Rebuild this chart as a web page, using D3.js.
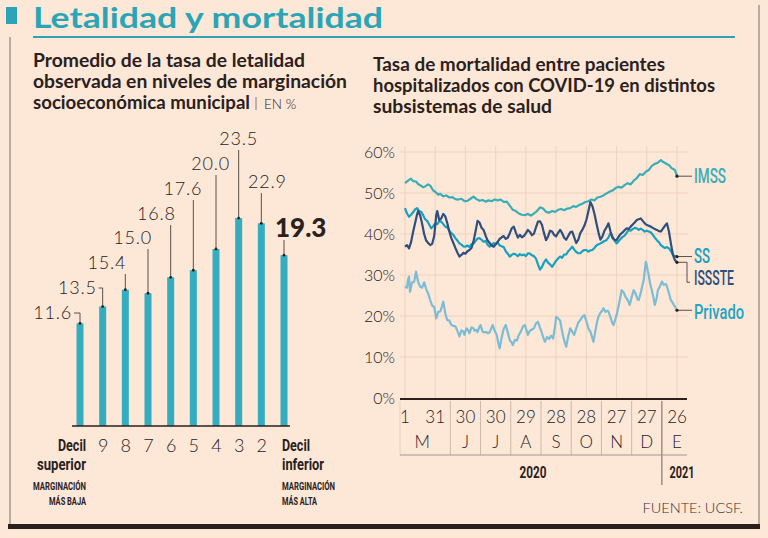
<!DOCTYPE html>
<html>
<head>
<meta charset="utf-8">
<script src="https://cdn.jsdelivr.net/npm/d3@7"></script>
<style>
  body { margin: 0; background: #fde7d7; }
  svg { display: block; }
</style>
</head>
<body>
<div id="chart"></div>
<script>
// Datos: letalidad por decil de marginación
const deciles = ["Decil superior", "9", "8", "7", "6", "5", "4", "3", "2", "Decil inferior"];
const letalidad = [11.6, 13.5, 15.4, 15.0, 16.8, 17.6, 20.0, 23.5, 22.9, 19.3];

// Datos: mortalidad por subsistema, [días desde el 1 de mayo de 2020, %]
const fechaInicio = "2020-05-01";
const imss = [[0,52.4],[3,53.0],[6,53.5],[8,52.9],[11,52.8],[13,52.2],[15,51.9],[18,51.4],[20,51.6],[23,52.1],[25,51.8],[28,50.6],[30,50.3],[33,49.6],[35,49.8],[38,49.2],[41,49.4],[44,48.9],[47,49.0],[50,48.5],[53,48.4],[56,48.6],[59,48.0],[62,48.1],[65,48.6],[68,49.1],[71,48.5],[74,48.1],[77,48.3],[80,47.9],[83,48.2],[86,48.0],[89,48.4],[92,48.2],[95,48.4],[98,47.8],[101,47.9],[104,46.9],[107,45.9],[110,45.6],[113,45.0],[116,44.7],[119,44.6],[122,44.9],[125,44.5],[128,45.0],[131,45.6],[134,46.5],[137,46.2],[140,45.4],[143,45.2],[146,45.6],[149,45.4],[152,45.9],[155,46.1],[158,45.8],[161,46.2],[164,46.3],[167,46.8],[170,46.6],[173,47.1],[176,47.4],[179,47.8],[182,48.0],[185,48.4],[188,48.2],[191,48.9],[194,49.1],[197,49.4],[200,49.9],[203,50.3],[206,50.6],[209,51.2],[212,51.5],[215,51.3],[218,51.9],[221,52.4],[224,52.1],[227,53.0],[230,53.6],[233,54.6],[236,54.4],[239,55.2],[242,55.6],[245,56.6],[248,57.1],[251,57.4],[254,58.0],[256,57.6],[259,57.2],[262,56.8],[265,56.0],[268,55.6],[270,54.1]];
const ss = [[0,46.3],[2,45.0],[4,44.2],[6,44.7],[8,45.3],[10,46.0],[12,46.3],[14,45.6],[16,45.4],[18,44.6],[20,43.6],[22,43.2],[24,42.3],[26,41.4],[28,41.9],[30,42.6],[32,42.4],[34,43.1],[36,43.0],[38,42.4],[40,41.8],[42,41.6],[44,40.8],[46,40.2],[48,39.8],[50,39.0],[52,38.4],[54,37.7],[56,37.4],[58,37.0],[60,36.9],[62,37.2],[64,36.8],[66,37.5],[68,37.7],[70,38.3],[72,38.9],[74,39.0],[76,38.6],[78,38.1],[80,38.3],[82,37.4],[84,36.9],[86,37.3],[88,37.8],[90,37.5],[92,37.9],[94,37.2],[96,37.0],[98,36.8],[100,35.8],[102,35.2],[104,34.5],[106,34.9],[108,35.2],[110,35.0],[112,34.6],[114,35.1],[116,34.8],[118,35.0],[120,34.6],[122,35.3],[124,35.2],[126,34.8],[128,34.6],[130,34.0],[132,32.6],[134,31.3],[136,32.0],[138,33.1],[140,33.8],[142,33.0],[144,32.6],[146,32.0],[148,32.7],[150,33.5],[152,34.0],[154,34.5],[156,34.2],[158,35.0],[160,35.0],[162,35.8],[164,36.3],[166,36.9],[168,36.2],[170,35.6],[172,35.3],[174,35.3],[176,35.8],[178,36.1],[180,36.1],[182,35.7],[184,36.0],[186,36.1],[188,36.6],[190,37.2],[192,37.5],[194,37.7],[196,38.0],[198,38.3],[200,38.5],[202,39.2],[204,40.2],[206,39.4],[208,38.4],[210,37.7],[212,38.2],[214,38.8],[216,39.3],[218,39.6],[220,40.3],[222,41.0],[224,40.8],[226,41.2],[228,41.5],[230,41.4],[232,41.0],[234,41.3],[236,41.0],[238,40.6],[240,40.8],[242,40.6],[244,40.4],[246,39.8],[248,39.1],[250,38.5],[252,38.0],[254,37.3],[256,36.9],[258,36.6],[260,36.8],[262,36.5],[264,35.8],[266,34.9],[268,34.6],[270,34.5]];
const issste = [[0,36.9],[2,37.3],[4,36.5],[6,38.0],[8,40.5],[10,42.6],[12,44.8],[13,45.6],[15,44.6],[17,42.5],[19,40.0],[21,38.4],[23,37.8],[25,37.3],[27,37.6],[29,39.5],[31,44.6],[32,45.6],[34,43.4],[36,43.8],[38,44.9],[40,44.3],[42,42.6],[44,40.6],[46,39.0],[48,37.8],[50,36.6],[52,35.5],[54,34.5],[56,34.9],[58,35.4],[60,35.2],[62,35.8],[64,36.1],[66,36.6],[68,38.2],[70,40.6],[72,43.2],[74,42.8],[76,41.5],[78,41.0],[80,39.6],[82,38.4],[84,37.8],[86,37.2],[88,36.9],[90,37.5],[92,38.1],[94,38.8],[96,39.2],[98,39.5],[100,38.8],[102,39.1],[104,40.2],[106,41.4],[108,41.8],[110,40.4],[112,39.1],[114,39.8],[116,39.2],[118,39.5],[120,40.2],[122,41.0],[124,40.5],[126,39.7],[128,40.1],[130,41.6],[132,43.0],[134,43.1],[136,42.2],[138,40.2],[140,38.5],[142,39.4],[144,40.8],[146,40.6],[148,39.8],[150,39.4],[152,40.3],[154,41.0],[156,40.2],[158,39.1],[160,38.6],[162,39.5],[164,40.4],[166,40.6],[168,39.2],[170,37.8],[172,38.6],[174,40.2],[176,41.0],[178,42.0],[180,43.4],[182,45.5],[184,47.8],[186,46.8],[188,45.0],[190,42.6],[192,40.4],[194,38.6],[196,39.4],[198,40.8],[200,41.6],[202,42.6],[204,40.6],[206,39.0],[208,38.6],[210,38.5],[212,39.3],[214,40.0],[216,40.4],[218,40.9],[220,41.4],[222,41.2],[224,41.8],[226,42.3],[228,42.8],[230,43.4],[232,43.6],[234,43.8],[236,43.2],[238,42.6],[240,42.2],[242,42.0],[244,41.8],[246,41.5],[248,41.2],[250,41.0],[252,40.7],[254,40.6],[256,41.3],[258,42.0],[260,42.6],[262,40.6],[264,37.6],[266,34.9],[268,33.6],[270,33.1]];
const privado = [[0,27.2],[2,26.9],[3,28.8],[4,29.6],[5,25.9],[7,28.2],[9,28.3],[11,30.8],[13,28.4],[15,27.2],[17,26.9],[19,28.2],[21,26.6],[23,25.5],[25,23.9],[27,22.5],[29,22.2],[31,19.4],[33,21.0],[35,21.1],[37,22.6],[38,23.5],[40,20.6],[42,19.0],[44,18.9],[46,17.8],[48,17.6],[50,17.5],[52,16.4],[54,15.0],[56,16.5],[58,16.2],[59,15.4],[61,17.0],[63,16.4],[64,15.8],[66,17.2],[68,17.0],[69,16.4],[71,16.6],[72,16.1],[74,17.4],[75,17.8],[77,16.2],[79,16.0],[81,16.1],[82,15.8],[84,16.0],[86,17.2],[87,17.8],[89,16.4],[91,15.4],[93,13.0],[94,12.1],[96,14.8],[98,16.9],[100,17.8],[102,16.0],[104,14.1],[106,13.5],[107,12.9],[109,14.2],[111,14.0],[113,15.4],[115,16.2],[117,17.4],[119,17.8],[121,16.2],[122,15.4],[124,16.4],[126,16.7],[128,17.0],[130,18.2],[132,18.6],[134,17.1],[136,15.8],[138,14.2],[139,13.7],[141,14.9],[143,14.4],[145,15.2],[147,14.5],[149,17.6],[150,19.8],[152,19.4],[154,18.9],[156,16.2],[158,14.0],[160,12.5],[162,15.0],[164,17.0],[166,16.2],[168,15.4],[170,17.0],[172,18.4],[174,19.0],[176,19.8],[178,20.2],[180,18.8],[182,17.0],[184,16.2],[186,14.6],[187,13.7],[189,16.4],[191,19.0],[192,19.8],[194,20.8],[196,21.4],[197,21.9],[199,21.0],[201,21.3],[202,21.1],[204,19.6],[206,18.2],[207,17.8],[209,19.4],[210,20.2],[212,22.4],[214,24.8],[215,26.3],[217,25.8],[219,24.6],[220,24.3],[222,23.4],[223,22.7],[225,24.6],[227,26.3],[229,25.4],[231,24.0],[232,23.9],[234,25.6],[236,27.8],[237,28.8],[238,31.0],[239,33.2],[240,32.4],[241,31.0],[242,30.0],[243,28.2],[245,26.3],[247,24.0],[248,22.7],[250,24.6],[251,26.3],[253,27.2],[255,28.4],[257,27.6],[259,27.8],[260,27.2],[262,25.6],[264,23.8],[265,23.5],[267,22.6],[268,22.3],[270,21.4]];

const subsistemas = ["IMSS", "SS", "ISSSTE", "Privado"];
const fechasTick = ["2020-05-01", "2020-05-31", "2020-06-30", "2020-07-30", "2020-08-29", "2020-09-28", "2020-10-28", "2020-11-27", "2020-12-27", "2021-01-26"];
const etiquetasDia = ["1", "31", "30", "30", "29", "28", "28", "27", "27", "26"];
const meses = ["M", "J", "J", "A", "S", "O", "N", "D", "E"];
const ticksY = [0, 10, 20, 30, 40, 50, 60];

// Estilos
const fondo = "#fde7d7";
const tinta = "#2a211d";
const turquesa = "#2ba5b6";
const colores = { IMSS: "#3aaeb7", SS: "#17a1c0", ISSSTE: "#2f4f7c", Privado: "#7bbdd5" };
const coloresEtiqueta = { IMSS: "#3aaeb7", SS: "#17a1c0", ISSSTE: "#2f4f7c", Privado: "#1ea4c4" };
const fuenteBold = "Lato, 'Open Sans', sans-serif";
const fuenteLight = "Lato, 'Open Sans', sans-serif";
const fuenteCond = "Roboto, Lato, sans-serif";

// ancho fijo para imitar la tipografía condensada original
function ajustar(sel, ancho) {
  return sel.attr("textLength", ancho).attr("lengthAdjust", "spacingAndGlyphs");
}

const width = 768;
const height = 538;

const svg = d3.select("#chart").append("svg")
  .attr("width", width)
  .attr("height", height);

svg.append("rect").attr("width", width).attr("height", height).attr("fill", fondo);

// Encabezado
svg.append("rect").attr("x", 6).attr("y", 7).attr("width", 11).attr("height", 17).attr("fill", turquesa);
svg.append("text")
  .attr("x", 33).attr("y", 28)
  .attr("font-family", fuenteBold).attr("font-weight", 700).attr("font-size", 28)
  .attr("fill", turquesa)
  .call(ajustar, 350)
  .text("Letalidad y mortalidad");
svg.append("line").attr("x1", 33).attr("x2", 735).attr("y1", 37).attr("y2", 37)
  .attr("stroke", turquesa).attr("stroke-width", 2);

// Marco
svg.append("line").attr("x1", 10).attr("x2", 10).attr("y1", 37).attr("y2", 526)
  .attr("stroke", "#7d6e66").attr("stroke-width", 1);
svg.append("line").attr("x1", 759).attr("x2", 759).attr("y1", 5).attr("y2", 526)
  .attr("stroke", "#7d6e66").attr("stroke-width", 1);
svg.append("rect").attr("x", 8).attr("y", 524).attr("width", 752).attr("height", 5).attr("fill", tinta);

// Subtítulos
const subIzq = ["Promedio de la tasa de letalidad", "observada en niveles de marginación", "socioeconómica municipal"];
const anchoIzq = [272, 314, 217];
svg.append("g").selectAll("text").data(subIzq).join("text")
  .attr("x", 33).attr("y", (d, i) => 67 + i * 21)
  .attr("font-family", fuenteBold).attr("font-weight", 700).attr("font-size", 19)
  .attr("fill", tinta)
  .attr("textLength", (d, i) => anchoIzq[i]).attr("lengthAdjust", "spacingAndGlyphs")
  .text(d => d);
svg.append("line").attr("x1", 256).attr("x2", 256).attr("y1", 97).attr("y2", 110)
  .attr("stroke", "#8a7b73").attr("stroke-width", 1);
svg.append("text").attr("x", 264).attr("y", 109)
  .attr("font-family", fuenteLight).attr("font-weight", 300).attr("font-size", 13.5)
  .attr("fill", tinta).text("EN %");

const subDer = ["Tasa de mortalidad entre pacientes", "hospitalizados con COVID-19 en distintos", "subsistemas de salud"];
const anchoDer = [292, 342, 179];
svg.append("g").selectAll("text").data(subDer).join("text")
  .attr("x", 373).attr("y", (d, i) => 71 + i * 21)
  .attr("font-family", fuenteBold).attr("font-weight", 700).attr("font-size", 19)
  .attr("fill", tinta)
  .attr("textLength", (d, i) => anchoDer[i]).attr("lengthAdjust", "spacingAndGlyphs")
  .text(d => d);

// ---------- Gráfica de barras ----------
const base = 426;
const xBar = d3.scalePoint().domain(deciles).range([80, 284]);
const yBar = d3.scaleLinear().domain([0, 25]).range([base, base - 25 * 8.85]);
const barras = deciles.map((d, i) => ({ decil: d, valor: letalidad[i], i }));

// posición de cada etiqueta de valor: [ancla, desplazamiento x, línea base]
const etiquetaPos = [
  ["end", -8, 319], ["end", -6, 294], ["end", 1, 269], ["end", 4, 244], ["end", 5, 220],
  ["end", 9, 195], ["end", 14, 170], ["middle", 0, 145], ["middle", 6, 188], ["start", -9, 237]
];

const gBar = svg.append("g");
gBar.selectAll("rect").data(barras).join("rect")
  .attr("x", d => xBar(d.decil) - 3.5)
  .attr("y", d => yBar(d.valor))
  .attr("width", 7)
  .attr("height", d => base - yBar(d.valor))
  .attr("fill", "#35adc1");

// líneas guía
gBar.selectAll("path.guia").data(barras).join("path")
  .attr("class", "guia")
  .attr("fill", "none").attr("stroke", "#4a3f3a").attr("stroke-width", 0.9)
  .attr("d", d => {
    const bx = xBar(d.decil), p = etiquetaPos[d.i];
    if (d.i < 2) {
      const ly = p[2] - 6;
      return `M${bx + p[1] + 2},${ly}H${bx}V${yBar(d.valor)}`;
    }
    const top = d.i === 9 ? p[2] + 3 : p[2] + 5;
    return `M${bx},${top}V${yBar(d.valor)}`;
  });
gBar.selectAll("circle").data(barras).join("circle")
  .attr("cx", d => xBar(d.decil)).attr("cy", d => yBar(d.valor))
  .attr("r", 1.4).attr("fill", tinta);

gBar.selectAll("text.valor").data(barras).join("text")
  .attr("class", "valor")
  .attr("x", d => xBar(d.decil) + etiquetaPos[d.i][1])
  .attr("y", d => etiquetaPos[d.i][2])
  .attr("text-anchor", d => etiquetaPos[d.i][0])
  .attr("font-family", d => d.i === 9 ? fuenteBold : fuenteLight)
  .attr("font-weight", d => d.i === 9 ? 900 : 300)
  .attr("font-size", d => d.i === 9 ? 26 : 18)
  .attr("letter-spacing", d => d.i === 9 ? 0 : 0.8)
  .attr("fill", tinta)
  .text(d => d.valor.toFixed(1));

// eje: solo los deciles intermedios llevan número
const ejeBar = gBar.append("g")
  .attr("transform", `translate(0,${base})`)
  .call(d3.axisBottom(xBar).tickSize(0).tickPadding(9).tickValues(deciles.slice(1, -1)));
ejeBar.select(".domain").remove();
ejeBar.selectAll("text")
  .attr("font-family", fuenteLight).attr("font-weight", 300).attr("font-size", 18)
  .attr("fill", tinta).attr("dy", "0.95em");
gBar.append("line").attr("x1", 72).attr("x2", 290).attr("y1", base).attr("y2", base)
  .attr("stroke", tinta).attr("stroke-width", 1.6);

// extremos
const extremos = [
  { x: 86, anchor: "end", lineas: ["Decil", "superior"], anchos: [28, 49], nota: ["MARGINACIÓN", "MÁS BAJA"], anchosNota: [53, 37] },
  { x: 282, anchor: "start", lineas: ["Decil", "inferior"], anchos: [28, 42], nota: ["MARGINACIÓN", "MÁS ALTA"], anchosNota: [53, 35] }
];
extremos.forEach(e => {
  e.lineas.forEach((t, k) => {
    gBar.append("text").attr("x", e.x).attr("y", 451 + k * 19)
      .attr("text-anchor", e.anchor)
      .attr("font-family", fuenteCond).attr("font-weight", 700).attr("font-size", 16)
      .attr("fill", tinta)
      .call(ajustar, e.anchos[k])
      .text(t);
  });
  e.nota.forEach((t, k) => {
    gBar.append("text").attr("x", e.x).attr("y", 490 + k * 15)
      .attr("text-anchor", e.anchor)
      .attr("font-family", fuenteCond).attr("font-weight", 700).attr("font-size", 11)
      .attr("fill", tinta)
      .call(ajustar, e.anchosNota[k])
      .text(t);
  });
});

// ---------- Gráfica de líneas ----------
const parse = d3.timeParse("%Y-%m-%d");
const t0 = parse(fechaInicio);
const x = d3.scaleTime().domain([parse(fechasTick[0]), parse(fechasTick[9])]).range([405, 677]);
const y = d3.scaleLinear().domain([0, 60]).range([398, 152]);
const ticks = fechasTick.map(parse);

const gLin = svg.append("g");
// rejilla
gLin.selectAll("line.h").data(ticksY.slice(1)).join("line")
  .attr("class", "h")
  .attr("x1", 400).attr("x2", 688).attr("y1", d => y(d)).attr("y2", d => y(d))
  .attr("stroke", "#efd3bf").attr("stroke-width", 1);
gLin.selectAll("line.v").data(ticks).join("line")
  .attr("class", "v")
  .attr("x1", d => x(d)).attr("x2", d => x(d)).attr("y1", 146).attr("y2", 398)
  .attr("stroke", "#efd3bf").attr("stroke-width", 1);

gLin.selectAll("text.ytick").data(ticksY).join("text")
  .attr("class", "ytick")
  .attr("x", 395).attr("y", d => y(d) + 6)
  .attr("text-anchor", "end")
  .attr("font-family", fuenteLight).attr("font-weight", 300).attr("font-size", 16)
  .attr("fill", tinta)
  .text(d => d + "%");

// series
const series = [
  { nombre: "Privado", datos: privado },
  { nombre: "IMSS", datos: imss },
  { nombre: "SS", datos: ss },
  { nombre: "ISSSTE", datos: issste }
];
const linea = d3.line()
  .x(d => x(d3.timeDay.offset(t0, d[0])))
  .y(d => y(d[1]));
gLin.selectAll("path.serie").data(series).join("path")
  .attr("class", "serie")
  .attr("fill", "none")
  .attr("stroke", d => colores[d.nombre])
  .attr("stroke-width", 2.2)
  .attr("stroke-linejoin", "round")
  .attr("d", d => linea(d.datos));

// eje x
gLin.append("line").attr("x1", 400).attr("x2", 687).attr("y1", 399).attr("y2", 399)
  .attr("stroke", tinta).attr("stroke-width", 2);
gLin.selectAll("text.dia").data(ticks).join("text")
  .attr("class", "dia")
  .attr("x", d => x(d)).attr("y", 423)
  .attr("text-anchor", "middle")
  .attr("font-family", fuenteLight).attr("font-weight", 300).attr("font-size", 17)
  .attr("fill", tinta)
  .text((d, i) => etiquetasDia[i]);
const posMes = meses.map((m, i) => i === 0 ? (x(ticks[0]) + x(ticks[1])) / 2 + 2 : x(ticks[i + 1]));
gLin.selectAll("text.mes").data(meses).join("text")
  .attr("class", "mes")
  .attr("x", (d, i) => posMes[i]).attr("y", 448)
  .attr("text-anchor", "middle")
  .attr("font-family", fuenteLight).attr("font-weight", 300).attr("font-size", 17)
  .attr("fill", tinta)
  .text(d => d);
const separadores = d3.range(1, ticks.length - 1).map(i => (x(ticks[i]) + x(ticks[i + 1])) / 2);
gLin.selectAll("line.sep").data(separadores).join("line")
  .attr("class", "sep")
  .attr("x1", d => d).attr("x2", d => d)
  .attr("y1", 401).attr("y2", (d, i) => i === separadores.length - 1 ? 485 : 455)
  .attr("stroke", (d, i) => i === separadores.length - 1 ? "#6f625a" : "#cdb8a8")
  .attr("stroke-width", 1);
gLin.append("line").attr("x1", 400).attr("x2", 400).attr("y1", 401).attr("y2", 455)
  .attr("stroke", "#e6cfbd").attr("stroke-width", 1);
gLin.append("line").attr("x1", 400).attr("x2", 687).attr("y1", 455).attr("y2", 455)
  .attr("stroke", "#a8968a").attr("stroke-width", 1);
const anios = [{ t: "2020", x: 533, w: 27 }, { t: "2021", x: 682, w: 25 }];
gLin.selectAll("text.anio").data(anios).join("text")
  .attr("class", "anio")
  .attr("x", d => d.x).attr("y", 478)
  .attr("text-anchor", "middle")
  .attr("font-family", fuenteCond).attr("font-weight", 700).attr("font-size", 17)
  .attr("fill", tinta)
  .attr("textLength", d => d.w).attr("lengthAdjust", "spacingAndGlyphs")
  .text(d => d.t);

// etiquetas de series
const finales = series.map(s => {
  const u = s.datos[s.datos.length - 1];
  return { nombre: s.nombre, px: x(d3.timeDay.offset(t0, u[0])), py: y(u[1]) };
});
// desplazamiento vertical y ancho de cada etiqueta
const desplazamiento = { IMSS: 0, SS: -1, ISSSTE: 16, Privado: 2 };
const anchoEtiqueta = { IMSS: 32, SS: 16, ISSSTE: 40, Privado: 50 };
gLin.selectAll("path.guiaSerie").data(finales).join("path")
  .attr("class", "guiaSerie")
  .attr("fill", "none").attr("stroke", "#4a3f3a").attr("stroke-width", 0.9)
  .attr("d", d => d.nombre === "ISSSTE"
    ? `M${d.px},${d.py}H${d.px + 10}V${d.py + 20}H${d.px + 13}`
    : `M${d.px},${d.py}H${d.px + 15}`);
gLin.selectAll("circle.fin").data(finales).join("circle")
  .attr("class", "fin")
  .attr("cx", d => d.px).attr("cy", d => d.py).attr("r", 1.6).attr("fill", tinta);
gLin.selectAll("text.serieLbl").data(finales).join("text")
  .attr("class", "serieLbl")
  .attr("x", d => d.px + 17)
  .attr("y", d => d.py + desplazamiento[d.nombre] + 7)
  .attr("font-family", fuenteCond).attr("font-weight", 500).attr("font-size", 20)
  .attr("fill", d => coloresEtiqueta[d.nombre])
  .attr("textLength", d => anchoEtiqueta[d.nombre]).attr("lengthAdjust", "spacingAndGlyphs")
  .text(d => d.nombre);

// fuente
svg.append("text").attr("x", 743).attr("y", 513)
  .attr("text-anchor", "end")
  .attr("font-family", fuenteLight).attr("font-weight", 300).attr("font-size", 14.5)
  .attr("fill", "#3a302b")
  .text("FUENTE: UCSF.");
</script>
</body>
</html>
